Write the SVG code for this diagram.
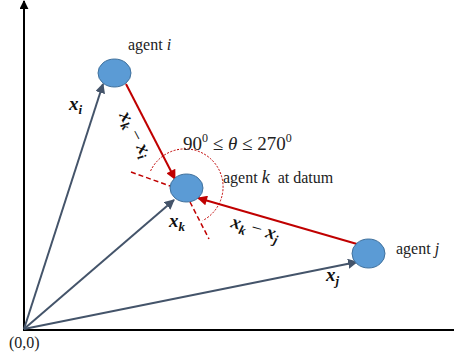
<svg xmlns="http://www.w3.org/2000/svg" width="454" height="360" viewBox="0 0 454 360">
<style>
.lbl{font-family:"Liberation Serif","Times New Roman",serif;font-size:16px;fill:#222}
.m{font-family:"Liberation Serif","Times New Roman",serif;font-size:19px;font-weight:bold;font-style:italic;fill:#111}
.ms{font-size:13px}
.op{font-weight:normal;font-style:normal}
.node{fill:#5B9BD5;stroke:#41719C;stroke-width:1}
.vec{stroke:#44546A;stroke-width:2;fill:none}
.rel{stroke:#C00000;stroke-width:2;fill:none}
.axis{stroke:#000;stroke-width:2;fill:none}
.dash{stroke:#C00000;stroke-width:1.5;stroke-dasharray:5,3;fill:none}
</style>
<defs>
<marker id="ab" viewBox="0 0 10 10" refX="9" refY="5" markerWidth="10" markerHeight="10" markerUnits="userSpaceOnUse" orient="auto"><path d="M0,0 L10,5 L0,10 z" fill="#44546A"/></marker>
<marker id="ar" viewBox="0 0 10 10" refX="9" refY="5" markerWidth="11" markerHeight="10" markerUnits="userSpaceOnUse" orient="auto"><path d="M0,0 L10,5 L0,10 z" fill="#C00000"/></marker>
<marker id="ak" viewBox="0 0 10 10" refX="9" refY="5" markerWidth="9" markerHeight="9" markerUnits="userSpaceOnUse" orient="auto"><path d="M0,0 L10,5 L0,10 z" fill="#000"/></marker>
</defs>
<g id="axes">
<line class="axis" x1="24" y1="330" x2="24" y2="1" marker-end="url(#ak)"/>
<line class="axis" x1="23" y1="330" x2="454" y2="330"/>
<text class="lbl" x="9" y="348" font-size="17">(0,0)</text>
</g>
<g id="connectors">
<line class="vec" x1="24" y1="329" x2="103" y2="84" marker-end="url(#ab)"/>
<line class="vec" x1="24" y1="329" x2="174" y2="200" marker-end="url(#ab)"/>
<line class="vec" x1="24" y1="329" x2="357" y2="262" marker-end="url(#ab)"/>
<line class="rel" x1="126" y1="84" x2="175" y2="179" marker-end="url(#ar)"/>
<line class="rel" x1="357" y1="244" x2="198" y2="198" marker-end="url(#ar)"/>
<line class="dash" x1="131" y1="172" x2="170" y2="186"/>
<line class="dash" x1="190" y1="202" x2="209" y2="239"/>
<path d="M150.6,170.9 A38,38 0 1 1 202.8,220.5" fill="none" stroke="#C00000" stroke-width="1" stroke-dasharray="2,1.5"/>
<text class="m" transform="translate(119,115) rotate(62)">x<tspan class="ms" dy="4">k</tspan><tspan class="op" dy="-4"> − </tspan>x<tspan class="ms" dy="4">i</tspan></text>
<text class="m" transform="translate(230,227) rotate(16)">x<tspan class="ms" dy="4">k</tspan><tspan class="op" dy="-4"> − </tspan>x<tspan class="ms" dy="4">j</tspan></text>
<text class="m" x="69" y="110">x<tspan class="ms" dy="4">i</tspan></text>
<text class="m" x="169" y="227">x<tspan class="ms" dy="4">k</tspan></text>
<text class="m" x="326" y="281">x<tspan class="ms" dy="4">j</tspan></text>
</g>
<g id="agent-i">
<ellipse class="node" cx="114.5" cy="73" rx="16.5" ry="14"/>
<text class="lbl" x="128" y="50">agent <tspan font-style="italic">i</tspan></text>
</g>
<g id="agent-k">
<ellipse class="node" cx="186.5" cy="188" rx="16.5" ry="14"/>
<text class="lbl" x="223" y="183" xml:space="preserve">agent <tspan font-style="italic" font-size="18">k</tspan>  at datum</text>
<text font-family="Liberation Serif,Times New Roman,serif" font-size="19" fill="#222" x="183" y="150">90<tspan font-size="12" dy="-8">0</tspan><tspan dy="8"> ≤ </tspan><tspan font-style="italic">θ</tspan> ≤ 270<tspan font-size="12" dy="-8">0</tspan></text>
</g>
<g id="agent-j">
<ellipse class="node" cx="368.5" cy="253.5" rx="16.5" ry="14.5"/>
<text class="lbl" x="396" y="254">agent <tspan font-style="italic">j</tspan></text>
</g>
</svg>
